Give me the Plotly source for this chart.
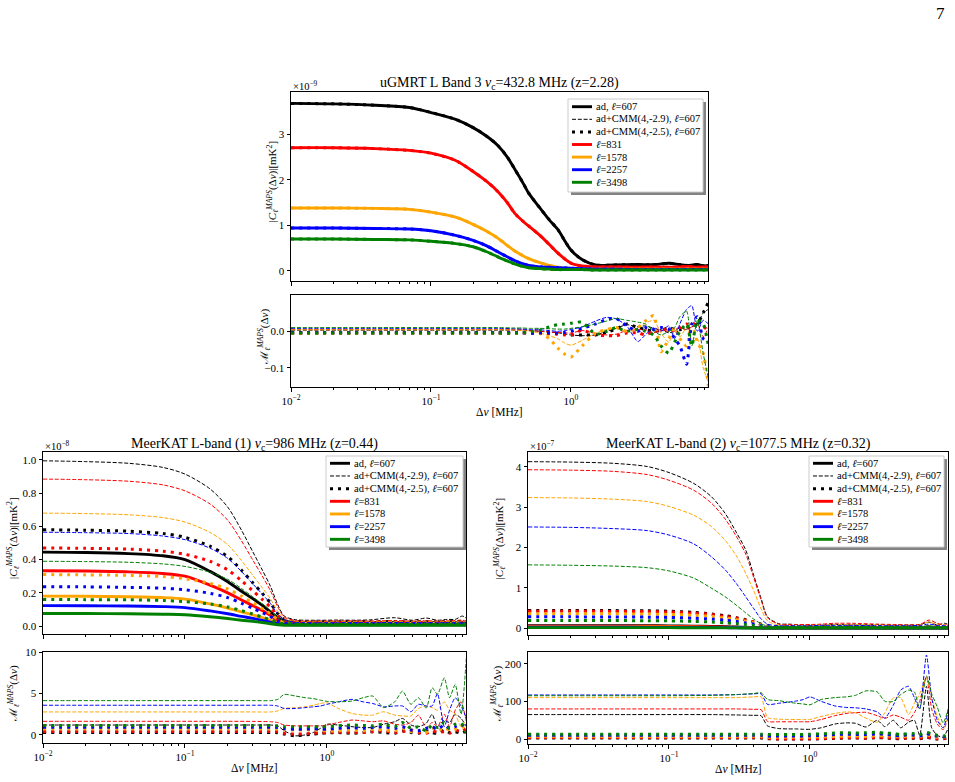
import plotly.graph_objects as go

W, H = 955, 782
FONT = "Liberation Serif"

# ---------------- data ----------------
nu_main = [0.01, 0.02, 0.04, 0.07, 0.1, 0.15, 0.2, 0.25, 0.3, 0.35, 0.4, 0.45, 0.5, 0.6,
           0.7, 0.8, 1.0, 1.2, 1.5, 2, 3, 4, 5, 6, 7, 8, 9, 9.6]
nu_ratio = [0.01, 0.05, 0.1, 0.2, 0.3, 0.4, 0.45, 0.5, 0.6, 0.7, 0.8, 0.9, 1.0, 1.2, 1.5,
            1.8, 2.1, 2.5, 3.0, 3.4, 3.9, 4.4, 5.0, 5.5, 6.0, 6.7, 7.3, 8.0, 8.8, 9.6]

ells = ["607", "831", "1578", "2257", "3498"]
colors = ["black", "red", "orange", "blue", "green"]

# uGMRT (x1e-9 mK^2)
ugmrt_ad_607 = [3.67, 3.66, 3.63, 3.58, 3.47, 3.32, 3.14, 2.95, 2.75, 2.50, 2.21, 1.95, 1.70, 1.38,
                1.12, 0.92, 0.46, 0.25, 0.13, 0.13, 0.14, 0.14, 0.17, 0.14, 0.12, 0.14, 0.11, 0.12]
ugmrt_ad_831 = [2.70, 2.70, 2.68, 2.64, 2.58, 2.42, 2.18, 1.96, 1.74, 1.50, 1.25, 1.10, 0.98, 0.78,
                0.58, 0.40, 0.17, 0.11, 0.09, 0.09, 0.08, 0.09, 0.08, 0.09, 0.10, 0.08, 0.09, 0.08]
ugmrt_ad_1578 = [1.38, 1.38, 1.37, 1.35, 1.29, 1.18, 1.02, 0.87, 0.72, 0.56, 0.43, 0.34, 0.27, 0.18,
                 0.12, 0.08, 0.05, 0.04, 0.04, 0.04, 0.04, 0.04, 0.04, 0.04, 0.04, 0.04, 0.04, 0.04]
ugmrt_ad_2257 = [0.94, 0.94, 0.93, 0.92, 0.88, 0.78, 0.67, 0.55, 0.42, 0.31, 0.22, 0.16, 0.12, 0.09,
                 0.08, 0.07, 0.06, 0.05, 0.04, 0.04, 0.03, 0.03, 0.03, 0.03, 0.03, 0.03, 0.03, 0.03]
ugmrt_ad_3498 = [0.70, 0.70, 0.69, 0.68, 0.65, 0.60, 0.53, 0.42, 0.31, 0.22, 0.15, 0.10, 0.07, 0.05,
                 0.04, 0.03, 0.03, 0.03, 0.02, 0.02, 0.02, 0.02, 0.02, 0.02, 0.02, 0.02, 0.02, 0.02]
# CMM curves coincide with the adiabatic ones at this scale
ugmrt_c29_607, ugmrt_c25_607 = ugmrt_ad_607, ugmrt_ad_607
ugmrt_c29_831, ugmrt_c25_831 = ugmrt_ad_831, ugmrt_ad_831
ugmrt_c29_1578, ugmrt_c25_1578 = ugmrt_ad_1578, ugmrt_ad_1578
ugmrt_c29_2257, ugmrt_c25_2257 = ugmrt_ad_2257, ugmrt_ad_2257
ugmrt_c29_3498, ugmrt_c25_3498 = ugmrt_ad_3498, ugmrt_ad_3498

ugmrt_m29_607 = [0.003, 0.003, 0.003, 0.003, 0.003, 0.003, 0.003, 0.002, 0.0, -0.002, -0.004, -0.007, -0.01, -0.012, -0.01,
                 0.0, 0.008, 0.018, 0.012, 0.015, 0.008, 0.004, -0.004, 0.0, 0.01, 0.005, 0.012, 0.02, 0.05, 0.06]
ugmrt_m29_831 = [0.005, 0.005, 0.005, 0.005, 0.005, 0.004, 0.004, 0.003, 0.0, -0.002, -0.003, -0.004, -0.005, 0.002, -0.006,
                 -0.01, -0.008, 0.002, 0.004, 0.005, -0.004, 0.002, 0.0, 0.006, 0.01, 0.004, 0.012, 0.02, -0.015, 0.01]
ugmrt_m29_1578 = [0.004, 0.004, 0.004, 0.004, 0.004, 0.003, 0.002, 0.0, -0.005, -0.012, -0.02, -0.032, -0.038, -0.025, -0.005,
                  0.005, 0.008, 0.0, 0.01, 0.022, 0.03, -0.005, -0.03, 0.0, -0.015, 0.01, -0.03, -0.02, -0.1, -0.14]
ugmrt_m29_2257 = [0.008, 0.008, 0.008, 0.008, 0.008, 0.007, 0.006, 0.005, 0.004, 0.002, 0.0, 0.002, 0.005, 0.012, 0.028,
                  0.038, 0.034, 0.015, -0.028, -0.01, 0.01, 0.0, 0.015, -0.02, 0.02, 0.06, 0.07, 0.0, 0.03, 0.02]
ugmrt_m29_3498 = [0.010, 0.010, 0.010, 0.010, 0.010, 0.009, 0.009, 0.008, 0.008, 0.007, 0.006, 0.006, 0.008, 0.012, 0.02,
                  0.028, 0.035, 0.03, 0.025, 0.02, 0.0, -0.01, 0.0, 0.01, 0.04, 0.055, -0.04, 0.03, -0.06, -0.13]
ugmrt_m25_607 = [-0.004, -0.004, -0.004, -0.004, -0.004, -0.004, -0.004, -0.004, -0.004, -0.005, -0.006, -0.008, -0.01, -0.01, -0.01,
                 -0.003, 0.006, 0.02, 0.01, 0.005, 0.0, 0.002, 0.01, 0.005, 0.004, 0.01, 0.015, 0.02, 0.05, 0.08]
ugmrt_m25_831 = [-0.005, -0.005, -0.005, -0.005, -0.005, -0.005, -0.005, -0.005, -0.005, -0.006, -0.008, -0.01, -0.01, 0.003, -0.01,
                 -0.012, -0.012, -0.005, -0.004, -0.01, 0.0, 0.005, 0.005, 0.002, 0.01, 0.02, 0.015, 0.03, 0.015, 0.0]
ugmrt_m25_1578 = [-0.006, -0.006, -0.006, -0.006, -0.006, -0.006, -0.006, -0.006, -0.006, -0.02, -0.045, -0.062, -0.07, -0.04, -0.005,
                  0.005, 0.01, 0.0, 0.01, 0.028, 0.043, -0.056, -0.02, 0.01, -0.02, -0.04, 0.02, -0.03, -0.06, -0.15]
ugmrt_m25_2257 = [-0.004, -0.004, -0.004, -0.004, -0.004, -0.004, -0.004, -0.005, -0.005, -0.005, -0.005, -0.003, 0.0, 0.008, 0.02,
                  0.032, 0.035, 0.015, 0.0, 0.01, 0.005, 0.01, 0.005, -0.02, -0.04, -0.09, 0.02, 0.04, -0.02, -0.03]
ugmrt_m25_3498 = [-0.005, -0.005, -0.005, -0.005, -0.005, -0.005, -0.004, -0.002, 0.003, 0.012, 0.018, 0.02, 0.022, 0.025, -0.008,
                  0.0, 0.01, 0.0, 0.005, 0.0, -0.01, -0.04, -0.06, -0.03, 0.0, 0.02, -0.04, 0.03, 0.02, -0.04]

# MeerKAT (1) (x1e-8 mK^2)
mk1_ad_607 = [0.445, 0.443, 0.436, 0.423, 0.400, 0.329, 0.267, 0.209, 0.165, 0.125, 0.085, 0.050, 0.030, 0.022,
              0.020, 0.020, 0.020, 0.020, 0.021, 0.020, 0.022, 0.020, 0.021, 0.020, 0.022, 0.020, 0.021, 0.020]
mk1_ad_831 = [0.333, 0.331, 0.326, 0.316, 0.300, 0.246, 0.200, 0.157, 0.123, 0.093, 0.063, 0.035, 0.022, 0.016,
              0.015, 0.015, 0.015, 0.015, 0.016, 0.015, 0.016, 0.015, 0.016, 0.015, 0.016, 0.015, 0.016, 0.015]
mk1_ad_1578 = [0.180, 0.179, 0.176, 0.171, 0.162, 0.133, 0.108, 0.085, 0.067, 0.050, 0.034, 0.020, 0.013, 0.010,
               0.010, 0.010, 0.010, 0.010, 0.010, 0.010, 0.011, 0.010, 0.010, 0.010, 0.011, 0.010, 0.010, 0.010]
mk1_ad_2257 = [0.123, 0.122, 0.121, 0.117, 0.111, 0.091, 0.074, 0.058, 0.046, 0.034, 0.023, 0.014, 0.010, 0.008,
               0.008, 0.008, 0.008, 0.008, 0.008, 0.008, 0.008, 0.008, 0.008, 0.008, 0.008, 0.008, 0.008, 0.008]
mk1_ad_3498 = [0.075, 0.075, 0.074, 0.071, 0.068, 0.056, 0.045, 0.035, 0.028, 0.021, 0.014, 0.008, 0.005, 0.004,
               0.004, 0.004, 0.004, 0.004, 0.004, 0.004, 0.004, 0.004, 0.004, 0.004, 0.004, 0.004, 0.004, 0.004]
mk1_c29_607 = [0.995, 0.990, 0.980, 0.955, 0.915, 0.826, 0.716, 0.577, 0.448, 0.338, 0.239, 0.129, 0.060, 0.038,
               0.035, 0.035, 0.035, 0.036, 0.035, 0.037, 0.050, 0.035, 0.048, 0.035, 0.040, 0.040, 0.060, 0.045]
mk1_c29_831 = [0.885, 0.881, 0.872, 0.850, 0.814, 0.735, 0.637, 0.513, 0.398, 0.301, 0.212, 0.115, 0.055, 0.032,
               0.030, 0.030, 0.030, 0.030, 0.031, 0.030, 0.033, 0.030, 0.032, 0.030, 0.031, 0.033, 0.035, 0.030]
mk1_c29_1578 = [0.680, 0.677, 0.670, 0.653, 0.626, 0.564, 0.490, 0.394, 0.306, 0.231, 0.163, 0.088, 0.045, 0.027,
                0.025, 0.025, 0.025, 0.025, 0.026, 0.025, 0.027, 0.025, 0.026, 0.025, 0.026, 0.027, 0.028, 0.025]
mk1_c29_2257 = [0.565, 0.562, 0.557, 0.542, 0.520, 0.469, 0.407, 0.328, 0.254, 0.192, 0.136, 0.073, 0.040, 0.022,
                0.020, 0.020, 0.020, 0.020, 0.021, 0.020, 0.022, 0.020, 0.021, 0.020, 0.021, 0.022, 0.023, 0.020]
mk1_c29_3498 = [0.390, 0.388, 0.384, 0.374, 0.359, 0.324, 0.281, 0.226, 0.176, 0.133, 0.094, 0.051, 0.030, 0.017,
                0.015, 0.015, 0.015, 0.015, 0.016, 0.015, 0.016, 0.015, 0.016, 0.015, 0.016, 0.017, 0.018, 0.015]
mk1_c25_607 = [0.580, 0.577, 0.571, 0.557, 0.534, 0.481, 0.418, 0.336, 0.261, 0.197, 0.139, 0.075, 0.040, 0.027,
               0.025, 0.025, 0.025, 0.025, 0.026, 0.025, 0.027, 0.025, 0.026, 0.025, 0.026, 0.027, 0.028, 0.025]
mk1_c25_831 = [0.470, 0.468, 0.463, 0.451, 0.432, 0.390, 0.338, 0.273, 0.212, 0.160, 0.113, 0.061, 0.035, 0.022,
               0.020, 0.020, 0.020, 0.020, 0.021, 0.020, 0.022, 0.020, 0.021, 0.020, 0.021, 0.022, 0.023, 0.020]
mk1_c25_1578 = [0.310, 0.308, 0.305, 0.298, 0.285, 0.257, 0.223, 0.180, 0.140, 0.105, 0.074, 0.040, 0.022, 0.016,
                0.015, 0.015, 0.015, 0.015, 0.016, 0.015, 0.016, 0.015, 0.016, 0.015, 0.016, 0.017, 0.018, 0.015]
mk1_c25_2257 = [0.237, 0.236, 0.233, 0.228, 0.218, 0.197, 0.171, 0.137, 0.107, 0.081, 0.057, 0.031, 0.018, 0.013,
                0.012, 0.012, 0.012, 0.012, 0.013, 0.012, 0.013, 0.012, 0.013, 0.012, 0.013, 0.014, 0.014, 0.012]
mk1_c25_3498 = [0.160, 0.159, 0.158, 0.154, 0.147, 0.133, 0.115, 0.093, 0.072, 0.054, 0.038, 0.021, 0.012, 0.009,
                0.008, 0.008, 0.008, 0.008, 0.009, 0.008, 0.009, 0.008, 0.009, 0.008, 0.009, 0.009, 0.010, 0.008]

mk1_m29_607 = [1.2, 1.2, 1.2, 1.2, 1.2, 1.2, 1.1, 0.5, -0.1, 0.0, 0.3, 0.8, 1.3, 1.2, 1.0,
               0.9, 0.9, 1.3, 1.6, 2.0, 1.2, 1.0, 1.4, 2.5, 1.0, 1.8, 1.5, 2.5, 2.0, 1.0]
mk1_m29_831 = [1.65, 1.65, 1.65, 1.65, 1.64, 1.6, 1.5, 1.2, 1.1, 1.1, 1.1, 1.1, 1.2, 1.5, 1.8,
               1.7, 1.6, 1.7, 1.3, 1.2, 1.5, 2.4, 0.9, 1.5, 1.0, 2.5, 1.0, 3.0, 4.0, 1.5]
mk1_m29_1578 = [2.78, 2.78, 2.78, 2.78, 2.78, 2.78, 2.9, 3.2, 3.3, 3.4, 3.6, 3.8, 3.9, 3.2, 2.6,
                2.4, 2.4, 2.8, 2.4, 2.3, 2.3, 3.2, 3.5, 3.3, 3.0, 4.0, 3.0, 2.5, 1.0, 2.0]
mk1_m29_2257 = [3.59, 3.59, 3.59, 3.59, 3.59, 3.59, 3.5, 3.2, 3.2, 3.3, 3.4, 3.5, 3.7, 4.0, 4.3,
                4.0, 3.8, 3.4, 3.5, 3.5, 2.8, 3.7, 3.5, 3.5, 5.0, 1.0, 3.0, 4.5, 3.5, 2.0]
mk1_m29_3498 = [4.15, 4.15, 4.15, 4.15, 4.15, 4.15, 4.3, 4.9, 4.7, 4.5, 4.4, 4.2, 4.06, 4.0, 4.1,
                4.5, 4.7, 3.3, 4.0, 5.3, 3.7, 4.5, 3.25, 5.7, 4.9, 6.9, 4.5, 6.1, 2.5, 9.5]
mk1_m25_607 = [0.30, 0.30, 0.30, 0.30, 0.30, 0.30, 0.28, 0.1, -0.1, 0.0, 0.1, 0.2, 0.25, 0.3, 0.2,
               0.3, 0.4, 0.3, 0.2, 0.5, 0.3, 0.2, 0.5, 0.3, 0.2, 0.6, 0.3, 0.4, 0.2, 0.5]
mk1_m25_831 = [0.41, 0.41, 0.41, 0.41, 0.41, 0.41, 0.4, 0.2, 0.1, 0.15, 0.2, 0.25, 0.3, 0.35, 0.3,
               0.3, 0.4, 0.5, 0.3, 0.4, 0.6, 0.3, 0.2, 0.5, 0.3, 0.4, 0.2, 0.6, 0.4, 0.8]
mk1_m25_1578 = [0.72, 0.72, 0.72, 0.72, 0.72, 0.72, 0.7, 0.6, 0.6, 0.6, 0.6, 0.55, 0.5, 0.5, 0.6,
                0.5, 0.7, 0.6, 0.5, 0.8, 0.4, 0.5, 0.3, 0.8, 0.5, 0.9, 0.6, 0.7, 0.9, 1.2]
mk1_m25_2257 = [0.93, 0.93, 0.93, 0.93, 0.93, 0.93, 0.9, 0.75, 0.7, 0.7, 0.75, 0.7, 0.7, 0.8, 0.9,
                0.8, 0.9, 1.0, 0.8, 1.0, 0.6, 0.5, 0.8, 1.0, 0.7, 1.2, 0.8, 1.0, 1.3, 0.8]
mk1_m25_3498 = [1.13, 1.13, 1.13, 1.13, 1.13, 1.13, 1.1, 1.0, 1.0, 1.0, 1.0, 1.0, 1.0, 1.1, 1.2,
                1.15, 1.1, 1.3, 1.0, 1.5, 0.8, 1.0, 0.5, 1.2, 0.9, 1.5, 0.8, 1.3, 1.4, 0.2]

# MeerKAT (2) (x1e-7 mK^2)
mk2_ad_607 = [0.062, 0.062, 0.061, 0.060, 0.057, 0.050, 0.043, 0.036, 0.029, 0.022, 0.015, 0.009, 0.005, 0.004,
              0.004, 0.004, 0.004, 0.004, 0.004, 0.004, 0.004, 0.004, 0.004, 0.004, 0.004, 0.004, 0.004, 0.004]
mk2_ad_831 = [0.049, 0.049, 0.048, 0.047, 0.045, 0.040, 0.034, 0.028, 0.023, 0.017, 0.012, 0.007, 0.004, 0.003,
              0.003, 0.003, 0.003, 0.003, 0.003, 0.003, 0.003, 0.003, 0.003, 0.003, 0.003, 0.003, 0.003, 0.003]
mk2_ad_1578 = [0.029, 0.029, 0.029, 0.028, 0.027, 0.024, 0.020, 0.017, 0.014, 0.010, 0.007, 0.004, 0.003, 0.002,
               0.002, 0.002, 0.002, 0.002, 0.002, 0.002, 0.002, 0.002, 0.002, 0.002, 0.002, 0.002, 0.002, 0.002]
mk2_ad_2257 = [0.021, 0.021, 0.021, 0.020, 0.019, 0.017, 0.015, 0.012, 0.010, 0.007, 0.005, 0.003, 0.002, 0.002,
               0.002, 0.002, 0.002, 0.002, 0.002, 0.002, 0.002, 0.002, 0.002, 0.002, 0.002, 0.002, 0.002, 0.002]
mk2_ad_3498 = [0.013, 0.013, 0.013, 0.013, 0.012, 0.011, 0.009, 0.008, 0.006, 0.005, 0.003, 0.002, 0.001, 0.001,
               0.001, 0.001, 0.001, 0.001, 0.001, 0.001, 0.001, 0.001, 0.001, 0.001, 0.001, 0.001, 0.001, 0.001]
mk2_c29_607 = [4.13, 4.12, 4.09, 4.01, 3.86, 3.59, 3.26, 2.85, 2.38, 1.94, 1.30, 0.74, 0.28, 0.11,
               0.10, 0.09, 0.08, 0.08, 0.09, 0.08, 0.09, 0.08, 0.08, 0.09, 0.15, 0.08, 0.12, 0.09]
mk2_c29_831 = [3.93, 3.92, 3.89, 3.81, 3.67, 3.42, 3.10, 2.71, 2.28, 1.84, 1.24, 0.70, 0.26, 0.10,
               0.09, 0.09, 0.09, 0.10, 0.12, 0.12, 0.10, 0.09, 0.08, 0.09, 0.20, 0.12, 0.08, 0.10]
mk2_c29_1578 = [3.24, 3.23, 3.20, 3.14, 3.02, 2.80, 2.52, 2.18, 1.80, 1.36, 0.92, 0.48, 0.18, 0.08,
                0.07, 0.07, 0.07, 0.08, 0.09, 0.09, 0.08, 0.07, 0.07, 0.08, 0.15, 0.09, 0.07, 0.08]
mk2_c29_2257 = [2.51, 2.50, 2.47, 2.42, 2.31, 2.09, 1.77, 1.45, 1.11, 0.78, 0.48, 0.23, 0.10, 0.06,
                0.06, 0.06, 0.06, 0.07, 0.07, 0.07, 0.06, 0.06, 0.06, 0.07, 0.10, 0.07, 0.06, 0.06]
mk2_c29_3498 = [1.57, 1.56, 1.54, 1.50, 1.42, 1.24, 0.99, 0.78, 0.57, 0.38, 0.22, 0.11, 0.05, 0.04,
                0.04, 0.04, 0.04, 0.04, 0.04, 0.04, 0.04, 0.04, 0.04, 0.04, 0.06, 0.04, 0.04, 0.04]
mk2_c25_607 = [0.44, 0.44, 0.435, 0.43, 0.42, 0.39, 0.35, 0.31, 0.26, 0.21, 0.15, 0.10, 0.06, 0.04,
               0.035, 0.035, 0.035, 0.035, 0.035, 0.035, 0.035, 0.035, 0.035, 0.035, 0.04, 0.035, 0.035, 0.035]
mk2_c25_831 = [0.42, 0.42, 0.415, 0.41, 0.40, 0.37, 0.34, 0.29, 0.25, 0.20, 0.15, 0.09, 0.05, 0.035,
               0.03, 0.03, 0.03, 0.03, 0.03, 0.03, 0.03, 0.03, 0.03, 0.03, 0.035, 0.03, 0.03, 0.03]
mk2_c25_1578 = [0.36, 0.36, 0.356, 0.35, 0.34, 0.32, 0.29, 0.25, 0.21, 0.17, 0.13, 0.08, 0.045, 0.03,
                0.025, 0.025, 0.025, 0.025, 0.025, 0.025, 0.025, 0.025, 0.025, 0.025, 0.03, 0.025, 0.025, 0.025]
mk2_c25_2257 = [0.28, 0.28, 0.277, 0.273, 0.266, 0.246, 0.224, 0.196, 0.165, 0.13, 0.10, 0.06, 0.035, 0.025,
                0.02, 0.02, 0.02, 0.02, 0.02, 0.02, 0.02, 0.02, 0.02, 0.02, 0.025, 0.02, 0.02, 0.02]
mk2_c25_3498 = [0.19, 0.19, 0.188, 0.185, 0.18, 0.167, 0.152, 0.133, 0.112, 0.09, 0.066, 0.042, 0.025, 0.02,
                0.015, 0.015, 0.015, 0.015, 0.015, 0.015, 0.015, 0.015, 0.015, 0.015, 0.02, 0.015, 0.015, 0.015]

mk2_m29_607 = [65, 65, 65, 65, 64, 63, 62, 35, 28, 27, 27, 26, 26, 30, 40,
               43, 42, 32, 50, 33, 50, 30, 45, 50, 10, 140, 30, 10, 5, 30]
mk2_m29_831 = [80, 80, 80, 80, 80, 79, 78, 47, 46, 46, 46, 46, 46, 52, 62,
               68, 70, 71, 62, 55, 64, 58, 50, 70, 100, 165, 80, 40, 25, 60]
mk2_m29_1578 = [110, 110, 110, 110, 110, 112, 112, 57, 53, 52, 52, 52, 52, 60, 68,
                72, 70, 55, 45, 70, 109, 110, 65, 95, 120, 162, 110, 60, 29, 73]
mk2_m29_2257 = [117, 117, 117, 117, 118, 120, 120, 92, 95, 98, 101, 105, 112, 100, 88,
                84, 83, 80, 72, 56, 90, 130, 140, 110, 80, 223, 109, 50, 30, 82]
mk2_m29_3498 = [115, 115, 115, 116, 118, 121, 123, 105, 102, 98, 95, 93, 91, 105, 110,
                112, 116, 128, 125, 100, 100, 118, 130, 125, 80, 168, 120, 85, 43, 82]
mk2_m25_607 = [3, 3, 3, 3, 3, 3, 3, 1, 0, 0, 0, 0, 0, 1, 2, 3, 3, 2, 4, 3, 2, 1, 3, 2, 1, 5, 2, 0, 1, 3]
mk2_m25_831 = [4, 4, 4, 4, 4, 4, 4, 2, 1, 1, 1, 1, 1, 2, 3, 4, 4, 3, 5, 4, 3, 2, 4, 3, 2, 6, 3, 1, 2, 4]
mk2_m25_1578 = [7, 7, 7, 7, 7, 7, 7, 5, 5, 5, 5, 5, 5, 6, 7, 8, 8, 7, 9, 8, 8, 6, 8, 7, 6, 12, 7, 5, 5, 7]
mk2_m25_2257 = [10, 10, 10, 10, 10, 10, 10, 8, 8, 8, 8, 8, 9, 10, 12, 13, 12, 12, 14, 13, 10, 9, 12, 10, 8, 15, 10, 8, 6, 10]
mk2_m25_3498 = [13, 13, 13, 13, 13, 13, 13, 12, 12, 12, 12, 12, 13, 14, 16, 17, 16, 17, 18, 16, 15, 12, 15, 14, 12, 18, 14, 10, 8, 12]

legend_labels = ["ad, <i>ℓ</i>=607", "ad+CMM(4,-2.9), <i>ℓ</i>=607", "ad+CMM(4,-2.5), <i>ℓ</i>=607",
                 "<i>ℓ</i>=831", "<i>ℓ</i>=1578", "<i>ℓ</i>=2257", "<i>ℓ</i>=3498"]

titles = ["uGMRT L Band 3 <i>ν</i><sub>c</sub>=432.8 MHz (z=2.28)",
          "MeerKAT L-band (1) <i>ν</i><sub>c</sub>=986 MHz (z=0.44)",
          "MeerKAT L-band (2) <i>ν</i><sub>c</sub>=1077.5 MHz (z=0.32)"]
exponents = ["×10<sup>−9</sup>", "×10<sup>−8</sup>", "×10<sup>−7</sup>"]

# ---------------- layout helpers ----------------
def X(px):
    return px / W

def Y(py):
    return 1 - py / H

SOLID = dict(width=2.9)
DASH = dict(width=1.0, dash="4px,1.8px")
DOT = dict(width=3.0, dash="3px,5px")

panels = [
    dict(ad=[ugmrt_ad_607, ugmrt_ad_831, ugmrt_ad_1578, ugmrt_ad_2257, ugmrt_ad_3498],
         c29=[ugmrt_c29_607, ugmrt_c29_831, ugmrt_c29_1578, ugmrt_c29_2257, ugmrt_c29_3498],
         c25=[ugmrt_c25_607, ugmrt_c25_831, ugmrt_c25_1578, ugmrt_c25_2257, ugmrt_c25_3498],
         m29=[ugmrt_m29_607, ugmrt_m29_831, ugmrt_m29_1578, ugmrt_m29_2257, ugmrt_m29_3498],
         m25=[ugmrt_m25_607, ugmrt_m25_831, ugmrt_m25_1578, ugmrt_m25_2257, ugmrt_m25_3498],
         px=(291, 708), main_py=(92, 281), ratio_py=(295, 387),
         yrange=[-0.22, 3.92], yticks=[0, 1, 2, 3], yfmt="{:.0f}",
         rrange=[-0.152, 0.099], rticks=[-0.1, 0.0], rfmt="{:.1f}",
         ylab_x=(272, 264),
         leg=(568, 99, 703, 192, 106.7, 12.6)),
    dict(ad=[mk1_ad_607, mk1_ad_831, mk1_ad_1578, mk1_ad_2257, mk1_ad_3498],
         c29=[mk1_c29_607, mk1_c29_831, mk1_c29_1578, mk1_c29_2257, mk1_c29_3498],
         c25=[mk1_c25_607, mk1_c25_831, mk1_c25_1578, mk1_c25_2257, mk1_c25_3498],
         m29=[mk1_m29_607, mk1_m29_831, mk1_m29_1578, mk1_m29_2257, mk1_m29_3498],
         m25=[mk1_m25_607, mk1_m25_831, mk1_m25_1578, mk1_m25_2257, mk1_m25_3498],
         px=(43, 466), main_py=(452, 634), ratio_py=(652, 743),
         yrange=[-0.048, 1.048], yticks=[0, 0.2, 0.4, 0.6, 0.8, 1.0], yfmt="{:.1f}",
         rrange=[-0.97, 10.02], rticks=[0, 5, 10], rfmt="{:.0f}",
         ylab_x=(13, 13),
         leg=(326, 456, 463, 547, 463.3, 12.67)),
    dict(ad=[mk2_ad_607, mk2_ad_831, mk2_ad_1578, mk2_ad_2257, mk2_ad_3498],
         c29=[mk2_c29_607, mk2_c29_831, mk2_c29_1578, mk2_c29_2257, mk2_c29_3498],
         c25=[mk2_c25_607, mk2_c25_831, mk2_c25_1578, mk2_c25_2257, mk2_c25_3498],
         m29=[mk2_m29_607, mk2_m29_831, mk2_m29_1578, mk2_m29_2257, mk2_m29_3498],
         m25=[mk2_m25_607, mk2_m25_831, mk2_m25_1578, mk2_m25_2257, mk2_m25_3498],
         px=(528, 948), main_py=(452, 635), ratio_py=(652, 744),
         yrange=[-0.17, 4.37], yticks=[0, 1, 2, 3, 4], yfmt="{:.0f}",
         rrange=[-13, 231], rticks=[0, 100, 200], rfmt="{:.0f}",
         ylab_x=(499, 497),
         leg=(809, 456, 944, 547, 463.3, 12.67)),
]

MINOR = [m * 10.0 ** e for e in (-2, -1, 0) for m in range(2, 10)]
TICKFONT = dict(family=FONT, size=11, color="black")

fig = go.Figure()
layout = {}
annotations = []
shapes = []

for p_i, p in enumerate(panels):
    n_main = 2 * p_i + 1
    n_rat = 2 * p_i + 2
    xm, ym = (f"x{n_main}", f"y{n_main}") if n_main > 1 else ("x", "y")
    xr, yr = f"x{n_rat}", f"y{n_rat}"
    x0, x1 = p["px"]
    common_x = dict(type="log", range=[-2, 0.979], domain=[X(x0), X(x1)], automargin=False,
                    showline=True, mirror=True, linecolor="black", linewidth=1,
                    ticks="outside", ticklen=3.5, tickwidth=0.8, tickcolor="black",
                    tickmode="array", tickvals=[0.01, 0.1, 1],
                    ticktext=["10<sup>−2</sup>", "10<sup>−1</sup>", "10<sup>0</sup>"],
                    tickfont=TICKFONT, showgrid=False, zeroline=False,
                    minor=dict(tickmode="array", tickvals=MINOR, ticks="outside", ticklen=2,
                               tickwidth=0.6, tickcolor="black", showgrid=False))
    layout["xaxis" if n_main == 1 else f"xaxis{n_main}"] = dict(common_x, anchor=ym, showticklabels=False)
    layout[f"xaxis{n_rat}"] = dict(common_x, anchor=yr, showticklabels=True)
    common_y = dict(showline=True, mirror=True, linecolor="black", linewidth=1, automargin=False,
                    ticks="outside", ticklen=3.5, tickwidth=0.8, tickcolor="black",
                    tickmode="array", tickfont=TICKFONT, showgrid=False, zeroline=False)
    layout["yaxis" if n_main == 1 else f"yaxis{n_main}"] = dict(
        common_y, domain=[Y(p["main_py"][1]), Y(p["main_py"][0])], anchor=xm, range=p["yrange"],
        tickvals=p["yticks"], ticktext=[p["yfmt"].format(v) for v in p["yticks"]])
    layout[f"yaxis{n_rat}"] = dict(
        common_y, domain=[Y(p["ratio_py"][1]), Y(p["ratio_py"][0])], anchor=xr, range=p["rrange"],
        tickvals=p["rticks"], ticktext=[p["rfmt"].format(v).replace("-", "−") for v in p["rticks"]])

    for i, col in enumerate(colors):
        for arr, st in ((p["ad"][i], SOLID), (p["c29"][i], DASH), (p["c25"][i], DOT)):
            fig.add_trace(go.Scatter(x=nu_main, y=arr, mode="lines", xaxis=xm, yaxis=ym,
                                     line=dict(color=col, shape="spline", smoothing=0.8, **st),
                                     showlegend=False, hoverinfo="skip"))
        for arr, st in ((p["m29"][i], DASH), (p["m25"][i], DOT)):
            fig.add_trace(go.Scatter(x=nu_ratio, y=arr, mode="lines", xaxis=xr, yaxis=yr,
                                     line=dict(color=col, shape="spline", smoothing=0.6, **st),
                                     showlegend=False, hoverinfo="skip"))

    # texts
    xc = (x0 + x1) / 2
    annotations.append(dict(text=titles[p_i], x=X(xc), y=Y(p["main_py"][0] - 8), xref="paper", yref="paper",
                            showarrow=False, xanchor="center", yanchor="middle",
                            font=dict(family=FONT, size=14, color="black")))
    annotations.append(dict(text=exponents[p_i], x=X(x0), y=Y(p["main_py"][0] + 2), xref="paper", yref="paper",
                            showarrow=False, xanchor="left", yanchor="bottom",
                            font=dict(family=FONT, size=10.5, color="black")))
    annotations.append(dict(text="|<i>C</i><sub><i>ℓ</i></sub><sup><i>MAPS</i></sup>(Δ<i>ν</i>)|[mK<sup>2</sup>]",
                            x=X(p["ylab_x"][0]), y=Y((p["main_py"][0] + p["main_py"][1]) / 2 - 5),
                            xref="paper", yref="paper", showarrow=False, textangle=-90,
                            xanchor="center", yanchor="middle",
                            font=dict(family=FONT, size=11, color="black")))
    annotations.append(dict(text="ℳ<sub><i>ℓ</i></sub><sup><i>MAPS</i></sup>(Δ<i>ν</i>)",
                            x=X(p["ylab_x"][1]), y=Y((p["ratio_py"][0] + p["ratio_py"][1]) / 2 - 4),
                            xref="paper", yref="paper", showarrow=False, textangle=-90,
                            xanchor="center", yanchor="middle",
                            font=dict(family=FONT, size=11, color="black")))
    annotations.append(dict(text="Δ<i>ν</i> [MHz]", x=X(xc), y=Y(p["ratio_py"][1] + 25), xref="paper", yref="paper",
                            showarrow=False, xanchor="center", yanchor="middle",
                            font=dict(family=FONT, size=11.5, color="black")))

    # legend (drawn like the matplotlib boxed legend with shadow)
    lx0, ly0, lx1, ly1, row0, drow = p["leg"]
    shapes.append(dict(type="rect", xref="paper", yref="paper", x0=X(lx0 + 3), x1=X(lx1 + 3),
                       y0=Y(ly1 + 3), y1=Y(ly0 + 3), fillcolor="rgba(90,90,90,0.75)",
                       line=dict(width=0), layer="above"))
    shapes.append(dict(type="rect", xref="paper", yref="paper", x0=X(lx0), x1=X(lx1),
                       y0=Y(ly1), y1=Y(ly0), fillcolor="white",
                       line=dict(width=1, color="#cccccc"), layer="above"))
    styles = [("black", SOLID), ("black", DASH), ("black", DOT),
              ("red", SOLID), ("orange", SOLID), ("blue", SOLID), ("green", SOLID)]
    for k, (col, st) in enumerate(styles):
        ry = row0 + k * drow
        line = dict(color=col, width=st["width"])
        if "dash" in st:
            line["dash"] = st["dash"]
        shapes.append(dict(type="line", xref="paper", yref="paper", x0=X(lx0 + 4), x1=X(lx0 + 24),
                           y0=Y(ry), y1=Y(ry), line=line, layer="above"))
        annotations.append(dict(text=legend_labels[k], x=X(lx0 + 26), y=Y(ry), xref="paper", yref="paper",
                                showarrow=False, xanchor="left", yanchor="middle",
                                font=dict(family=FONT, size=10.5, color="black")))

annotations.append(dict(text="7", x=X(940), y=Y(13), xref="paper", yref="paper", showarrow=False,
                        xanchor="center", yanchor="middle", font=dict(family=FONT, size=17, color="black")))

fig.update_layout(template="none", width=W, height=H, margin=dict(l=0, r=0, t=0, b=0, pad=0),
                  paper_bgcolor="white", plot_bgcolor="white",
                  font=dict(family=FONT, color="black"),
                  showlegend=False, annotations=annotations, shapes=shapes, **layout)

fig.write_html("out.html")
